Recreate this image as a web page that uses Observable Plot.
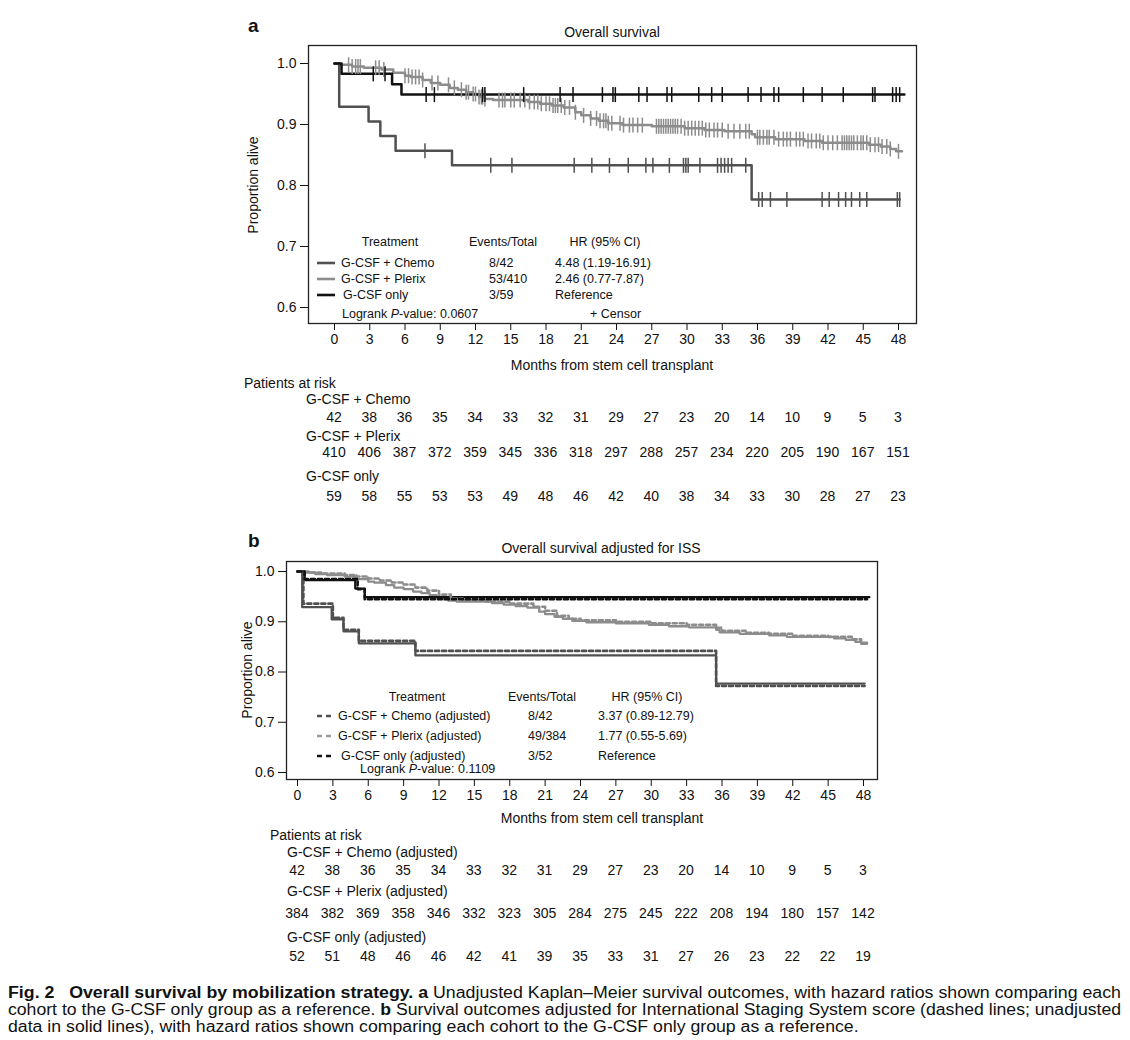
<!DOCTYPE html>
<html><head><meta charset="utf-8">
<script src="https://cdn.jsdelivr.net/npm/d3@7"></script>
<script src="https://cdn.jsdelivr.net/npm/@observablehq/plot@0.6"></script>
<style>
body{margin:0;background:#fff;}
#page{position:relative;width:1130px;height:1040px;font-family:"Liberation Sans",Arial,Helvetica,sans-serif;color:#111;overflow:hidden;background:#fff}
.abs{position:absolute;white-space:nowrap;line-height:1}
.plotwrap{position:absolute;left:0}
.cap{position:absolute;left:8px;white-space:nowrap;line-height:1;font-size:16px;transform-origin:0 50%}
</style></head><body><div id="page"></div>
<script>
// ---------------- data ----------------
const monthTicks = [0,3,6,9,12,15,18,21,24,27,30,33,36,39,42,45,48];
const propTicks = [0.6,0.7,0.8,0.9,1.0];
const groups = ["G-CSF + Plerix","G-CSF + Chemo","G-CSF only"];
const groupColors = ["#8c8c8c","#505050","#111111"];

// Panel a: unadjusted Kaplan–Meier step curves
const chemoT = [0,0.4,2.9,3.9,5.2,10.0,35.5,48.1];
const chemoS = [1,0.929,0.905,0.881,0.857,0.833,0.777,0.777];
const onlyT = [0,0.6,4.9,5.7,48.5];
const onlyS = [1,0.983,0.966,0.949,0.949];
const plerixT = [0,0.5,1.5,2.5,4.0,5.0,6.0,6.5,7.5,8.2,9.0,9.8,10.5,11.2,11.8,12.3,12.8,13.5,16.5,17.5,18.5,19.5,20.5,21.0,21.8,22.5,23.3,24.5,27.0,29.8,31.5,33.2,35.5,35.8,37.5,40.0,41.5,45.5,46.5,47.3,47.8,48.3];
const plerixS = [1,0.998,0.995,0.993,0.990,0.985,0.980,0.978,0.973,0.968,0.965,0.960,0.957,0.953,0.950,0.945,0.942,0.940,0.937,0.934,0.931,0.928,0.920,0.915,0.910,0.906,0.902,0.899,0.897,0.894,0.891,0.889,0.884,0.879,0.876,0.873,0.870,0.867,0.864,0.860,0.856,0.856];

// censor times (months)
const chemoCensor = [7.7,13.3,15.1,20.4,21.9,23.4,25.0,26.5,27.1,28.5,29.7,29.9,30.1,31.1,32.6,32.9,33.2,33.5,33.8,35.0,36.1,36.4,37.1,38.5,41.5,42.1,42.9,43.5,44.0,44.7,45.3,47.9,48.1];
const onlyCensor = [3.3,4.3,7.8,8.5,12.6,12.8,16.1,19.2,20.3,22.8,23.7,23.9,25.9,26.6,28.3,28.7,31.0,32.1,33.0,35.2,36.3,37.4,37.8,39.9,41.5,43.3,45.8,46.0,47.5,47.8,48.1];
const plerixCensor = [1.2,1.5,1.8,2.0,2.2,3.5,3.8,4.2,6.0,6.3,6.6,6.9,7.2,7.5,8.3,8.8,9.7,10.2,10.8,11.2,11.4,11.8,12.0,12.3,12.5,12.6,12.8,14.0,14.3,14.5,15.0,15.3,15.8,16.2,16.6,17.0,17.3,17.6,18.0,18.3,18.6,18.8,19.0,19.3,19.6,20.0,20.5,21.2,21.8,22.3,22.6,22.9,23.1,23.3,23.6,24.3,24.6,25.1,25.4,25.8,26.2,27.4,27.6,27.8,28.0,28.2,28.4,28.6,28.8,29.0,29.2,29.5,29.8,30.1,30.4,30.7,31.0,31.3,31.6,31.9,32.3,32.6,33.0,33.5,34.0,34.5,35.0,35.3,36.0,36.2,36.5,36.8,37.0,37.4,37.8,38.2,38.5,38.8,39.3,39.6,39.9,40.3,40.6,41.0,41.3,41.6,42.0,42.4,42.8,43.2,43.4,43.6,43.8,44.0,44.2,44.5,44.8,45.0,45.3,45.6,46.0,46.3,46.6,47.0,47.3,48.0];

// Panel b: adjusted (dashed) curves
const chemoAdjT = [0,0.5,3.0,3.9,5.2,10.0,35.5,48.1];
const chemoAdjS = [1,0.936,0.908,0.884,0.862,0.842,0.772,0.772];
const onlyAdjT = [0,0.6,5.1,5.7,48.3];
const onlyAdjS = [1,0.985,0.965,0.945,0.945];
const plerixAdjT = [0,1,2,4,5,6,7,8,9,10,11,12,13,14,16,18,20,21,22,23,24,27,30,33,35.5,36,38,40,42,45,47,47.8,48.3];
const plerixAdjS = [1,0.998,0.996,0.993,0.990,0.986,0.982,0.978,0.974,0.968,0.962,0.954,0.946,0.942,0.940,0.936,0.930,0.922,0.912,0.906,0.903,0.900,0.897,0.894,0.888,0.882,0.878,0.876,0.872,0.870,0.865,0.858,0.858];

// Patients at risk
const riskMonths = monthTicks;
const riskChemoA = [42,38,36,35,34,33,32,31,29,27,23,20,14,10,9,5,3];
const riskPlerixA = [410,406,387,372,359,345,336,318,297,288,257,234,220,205,190,167,151];
const riskOnlyA = [59,58,55,53,53,49,48,46,42,40,38,34,33,30,28,27,23];
const riskChemoB = [42,38,36,35,34,33,32,31,29,27,23,20,14,10,9,5,3];
const riskPlerixB = [384,382,369,358,346,332,323,305,284,275,245,222,208,194,180,157,142];
const riskOnlyB = [52,51,48,46,46,42,41,39,35,33,31,27,26,23,22,22,19];

// ---------------- helpers ----------------
const page = document.getElementById("page");
const FONT = "Liberation Sans, Arial, Helvetica, sans-serif";
function put(html, x, y, o = {}) {
  const d = document.createElement("div");
  d.className = "abs";
  d.innerHTML = html;
  d.style.left = x + "px";
  d.style.top = y + "px";
  d.style.fontSize = (o.size || 14) + "px";
  if (o.weight) d.style.fontWeight = o.weight;
  const tx = o.anchor === "middle" ? "-50%" : o.anchor === "end" ? "-100%" : "0";
  d.style.transform = `translate(${tx},-50%)` + (o.rotate ? ` rotate(${o.rotate}deg)` : "");
  page.appendChild(d);
  return d;
}
function swatch(x1, x2, y, color, dash) {
  const s = document.createElementNS("http://www.w3.org/2000/svg", "svg");
  s.setAttribute("width", x2 - x1 + 2); s.setAttribute("height", 6);
  s.style.position = "absolute"; s.style.left = (x1 - 1) + "px"; s.style.top = (y - 3) + "px";
  const l = document.createElementNS("http://www.w3.org/2000/svg", "line");
  l.setAttribute("x1", 1); l.setAttribute("x2", x2 - x1 + 1); l.setAttribute("y1", 3); l.setAttribute("y2", 3);
  l.setAttribute("stroke", color); l.setAttribute("stroke-width", 2.6);
  if (dash) l.setAttribute("stroke-dasharray", dash);
  s.appendChild(l); page.appendChild(s);
}
const stepAt = (T, S, t) => S[Math.max(0, d3.bisectRight(T, t) - 1)];
const rows = (g, T, S, kind) => T.map((t, i) => ({group: g, kind, t, s: S[i]}));
const censorSymbol = {draw(ctx, size) { const h = Math.sqrt(size / Math.PI); ctx.moveTo(0, -h); ctx.lineTo(0, h); }};

// ---------------- panel a ----------------
const curvesA = [
  ...rows("G-CSF + Plerix", plerixT, plerixS),
  ...rows("G-CSF + Chemo", chemoT, chemoS),
  ...rows("G-CSF only", onlyT, onlyS)
];
const censorsA = [
  ...plerixCensor.map(t => ({group: "G-CSF + Plerix", t, s: stepAt(plerixT, plerixS, t)})),
  ...chemoCensor.map(t => ({group: "G-CSF + Chemo", t, s: stepAt(chemoT, chemoS, t)})),
  ...onlyCensor.map(t => ({group: "G-CSF only", t, s: stepAt(onlyT, onlyS, t)}))
];

const topA = 0;
const chartA = Plot.plot({
  width: 1130, height: 360,
  marginLeft: 308, marginRight: 214, marginTop: 45, marginBottom: 37,
  style: {fontFamily: FONT, fontSize: "14px", color: "#111", background: "transparent", overflow: "visible"},
  x: {domain: [0, 48], range: [334, 898], ticks: monthTicks, tickSize: 7, tickPadding: 4, label: null},
  y: {domain: [0.6, 1.0], range: [307, 63], ticks: propTicks, tickFormat: d3.format(".1f"), tickSize: 8, tickPadding: 4, label: null},
  color: {domain: groups, range: groupColors},
  marks: [
    Plot.frame({stroke: "#222", strokeWidth: 1.3}),
    Plot.line(curvesA, {x: "t", y: "s", z: "group", stroke: "group", curve: "step-after", strokeWidth: 2.5}),
    Plot.dot(censorsA, {x: "t", y: "s", stroke: "group", symbol: censorSymbol, r: 7.5, fill: "none", strokeWidth: 1.5})
  ]
});
const wrapA = document.createElement("div"); wrapA.className = "plotwrap"; wrapA.style.top = topA + "px";
wrapA.appendChild(chartA); page.appendChild(wrapA);

// ---------------- panel b ----------------
const curvesB = [
  ...rows("G-CSF + Plerix", plerixT, plerixS, "u"),
  ...rows("G-CSF + Chemo", chemoT, chemoS, "u"),
  ...rows("G-CSF only", onlyT, onlyS, "u")
];
const curvesBadj = [
  ...rows("G-CSF + Plerix", plerixAdjT, plerixAdjS, "a"),
  ...rows("G-CSF + Chemo", chemoAdjT, chemoAdjS, "a"),
  ...rows("G-CSF only", onlyAdjT, onlyAdjS, "a")
];
const topB = 520;
const chartB = Plot.plot({
  width: 1130, height: 300,
  marginLeft: 286, marginRight: 253, marginTop: 41, marginBottom: 41,
  style: {fontFamily: FONT, fontSize: "14px", color: "#111", background: "transparent", overflow: "visible"},
  x: {domain: [0, 48], range: [297, 863], ticks: monthTicks, tickSize: 7, tickPadding: 4, label: null},
  y: {domain: [0.6, 1.0], range: [252, 51], ticks: propTicks, tickFormat: d3.format(".1f"), tickSize: 8, tickPadding: 4, label: null},
  color: {domain: groups, range: groupColors},
  marks: [
    Plot.frame({stroke: "#222", strokeWidth: 1.3}),
    Plot.line(curvesB, {x: "t", y: "s", z: "group", stroke: "group", curve: "step-after", strokeWidth: 2.3}),
    Plot.line(curvesBadj, {x: "t", y: "s", z: "group", stroke: "group", curve: "step-after", strokeWidth: 2.6, strokeDasharray: "4,3"})
  ]
});
const wrapB = document.createElement("div"); wrapB.className = "plotwrap"; wrapB.style.top = topB + "px";
wrapB.appendChild(chartB); page.appendChild(wrapB);

// ---------------- text: panel a ----------------
put("a", 248, 25, {size: 19, weight: "bold"});
put("Overall survival", 612, 32, {anchor: "middle", size: 14});
put("Proportion alive", 253, 185, {anchor: "middle", size: 14, rotate: -90});
put("Months from stem cell transplant", 612, 365, {anchor: "middle", size: 14});
// legend a
const LS = 12.5;
put("Treatment", 390, 242, {anchor: "middle", size: LS});
put("Events/Total", 503, 242, {anchor: "middle", size: LS});
put("HR (95% CI)", 605, 242, {anchor: "middle", size: LS});
const legA = [
  ["G-CSF + Chemo", "8/42", "4.48 (1.19-16.91)", groupColors[1], 262.5],
  ["G-CSF + Plerix", "53/410", "2.46 (0.77-7.87)", groupColors[0], 279],
  ["G-CSF only", "3/59", "Reference", groupColors[2], 295]
];
legA.forEach(([n, e, h, c, y], i) => {
  swatch(317, 335, y, c);
  put(n, i === 2 ? 343 : 341, y, {size: LS});
  put(e, 489, y, {size: LS});
  put(h, 555, y, {size: LS});
});
put("Logrank <i>P</i>-value: 0.0607", 342, 313.5, {size: LS});
put("+ Censor", 590, 313.5, {size: LS});

// risk table a
const xa = chartA.scale("x");
put("Patients at risk", 244, 383, {size: 14});
[["G-CSF + Chemo", riskChemoA, 399, 417], ["G-CSF + Plerix", riskPlerixA, 436, 452], ["G-CSF only", riskOnlyA, 476, 496]]
  .forEach(([lab, vals, yl, yn]) => {
    put(lab, 306, yl, {size: 14});
    vals.forEach((v, i) => put(String(v), xa.apply(riskMonths[i]), topA + yn, {anchor: "middle", size: 14}));
  });

// ---------------- text: panel b ----------------
put("b", 248, 540, {size: 19, weight: "bold"});
put("Overall survival adjusted for ISS", 601, 548, {anchor: "middle", size: 14});
put("Proportion alive", 247, 670, {anchor: "middle", size: 14, rotate: -90});
put("Months from stem cell transplant", 602, 818, {anchor: "middle", size: 14});
put("Treatment", 417, 697, {anchor: "middle", size: LS});
put("Events/Total", 542, 697, {anchor: "middle", size: LS});
put("HR (95% CI)", 647, 697, {anchor: "middle", size: LS});
const legB = [
  ["G-CSF + Chemo (adjusted)", "8/42", "3.37 (0.89-12.79)", groupColors[1], 716],
  ["G-CSF + Plerix (adjusted)", "49/384", "1.77 (0.55-5.69)", "#9a9a9a", 736],
  ["G-CSF only (adjusted)", "3/52", "Reference", groupColors[2], 756]
];
legB.forEach(([n, e, h, c, y], i) => {
  swatch(317, 332, y, c, "5,4");
  put(n, i === 2 ? 341 : 338, y, {size: LS});
  put(e, 528, y, {size: LS});
  put(h, 598, y, {size: LS});
});
put("Logrank <i>P</i>-value: 0.1109", 360, 768.5, {size: LS});

const xb = chartB.scale("x");
put("Patients at risk", 270, 835, {size: 14});
[["G-CSF + Chemo (adjusted)", riskChemoB, 852, 870], ["G-CSF + Plerix (adjusted)", riskPlerixB, 891, 913], ["G-CSF only (adjusted)", riskOnlyB, 937, 956]]
  .forEach(([lab, vals, yl, yn]) => {
    put(lab, 287, yl, {size: 14});
    vals.forEach((v, i) => put(String(v), xb.apply(riskMonths[i]), yn, {anchor: "middle", size: 14}));
  });

// ---------------- caption ----------------
const capLines = [
  "<b>Fig. 2</b>&nbsp;&nbsp;&nbsp;<b>Overall survival by mobilization strategy.</b> <b>a</b> Unadjusted Kaplan–Meier survival outcomes, with hazard ratios shown comparing each",
  "cohort to the G-CSF only group as a reference. <b>b</b> Survival outcomes adjusted for International Staging System score (dashed lines; unadjusted",
  "data in solid lines), with hazard ratios shown comparing each cohort to the G-CSF only group as a reference."
];
const capY = [993, 1010, 1027];
const capEls = capLines.map((h, i) => {
  const d = document.createElement("div"); d.className = "cap"; d.innerHTML = h;
  d.style.top = (capY[i] - 8) + "px"; page.appendChild(d); return d;
});
const target = 1113;
const sc = capEls.slice(0, 2).map(d => target / d.getBoundingClientRect().width);
capEls[0].style.transform = `scaleX(${sc[0]})`;
capEls[1].style.transform = `scaleX(${sc[1]})`;
capEls[2].style.transform = `scaleX(${(sc[0] + sc[1]) / 2})`;
</script></body></html>
